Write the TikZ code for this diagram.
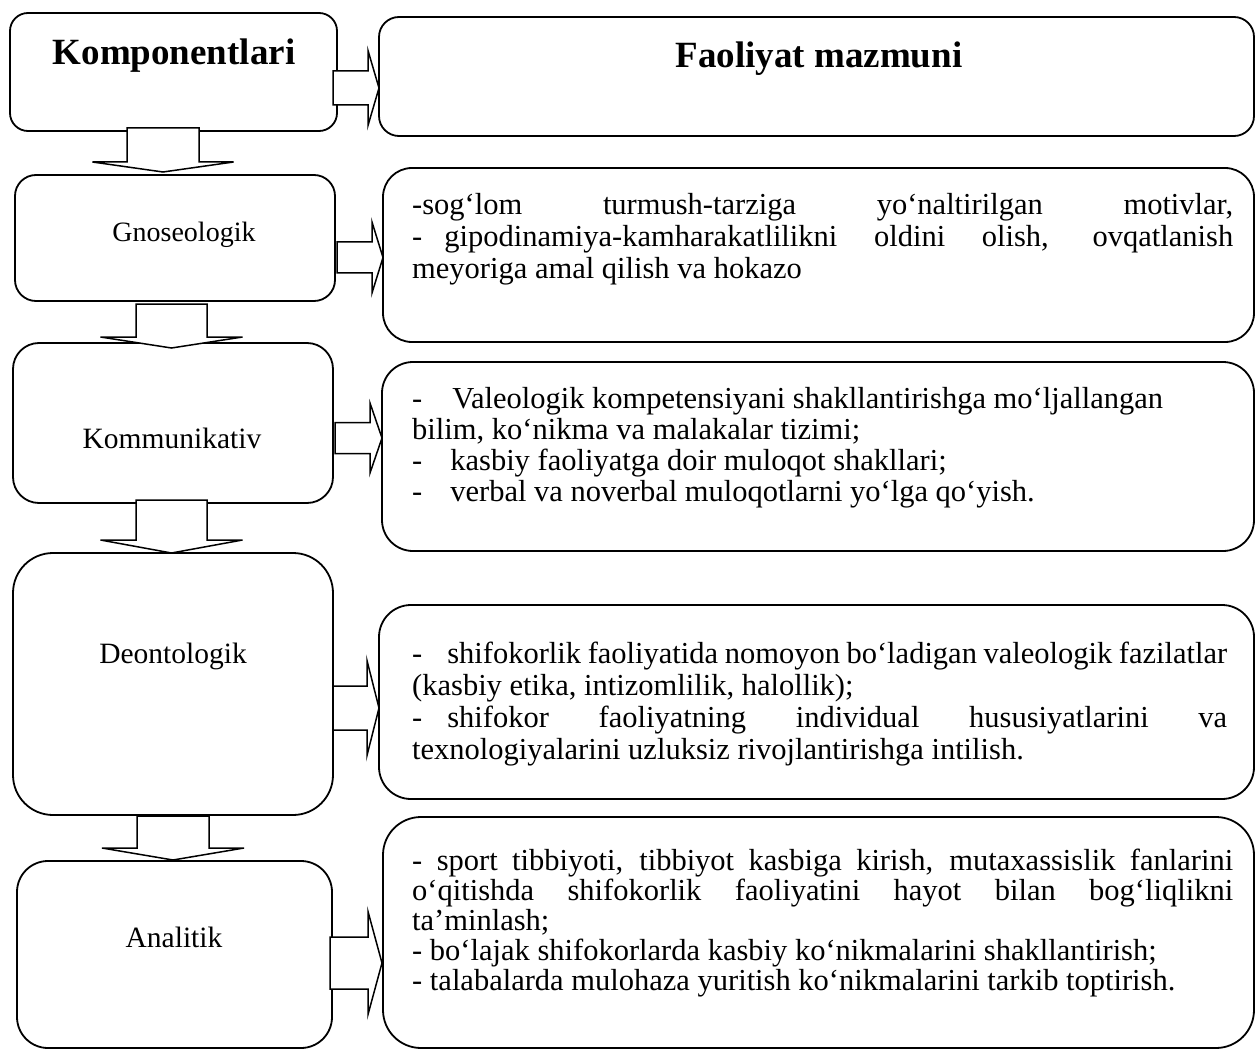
\documentclass[tikz,border=0pt]{standalone}
\usepackage{fontspec}
\setmainfont{Liberation Serif}
\newcommand\bodyfont{\fontsize{30.5}{31}\selectfont}
\newcommand\labfont{\fontsize{29.5}{32}\selectfont}
\newcommand\headfont{\fontsize{37}{42}\selectfont\bfseries}
\newcommand\dnarrow[6]{% cx, shaft half, head half, top, head y, tip y
  \draw[blockarrow] (#1-#2,#4) -- (#1+#2,#4) -- (#1+#2,#5) -- (#1+#3,#5) -- (#1,#6)
    -- (#1-#3,#5) -- (#1-#2,#5) -- cycle;}
\newcommand\rtarrow[6]{% x0, head x, tip x, cy, shaft half, head half
  \draw[blockarrow] (#1,#4-#5) -- (#2,#4-#5) -- (#2,#4-#6) -- (#3,#4) -- (#2,#4+#6)
    -- (#2,#4+#5) -- (#1,#4+#5) -- cycle;}
\begin{document}
\begin{tikzpicture}[x=1pt,y=-1pt,
  box/.style={draw, line width=1.8pt, rounded corners=#1, inner sep=0pt},
  blockarrow/.style={draw, fill=white, line width=1.5pt, line join=miter},
  txt/.style={anchor=base west, inner sep=0pt, font=\bodyfont},
  lab/.style={anchor=base, inner sep=0pt, font=\labfont},
  head/.style={anchor=base, inner sep=0pt, font=\headfont}]
\useasboundingbox (0,0) rectangle (1256,1051);
% left boxes
\node[box=18pt, minimum width=327pt, minimum height=118pt] (L1) at (173.5,72) {};
\node[box=21pt, minimum width=320pt, minimum height=126pt] (L2) at (175,238) {};
\node[box=26pt, minimum width=320pt, minimum height=160pt] (L3) at (173,423) {};
\node[box=40pt, minimum width=320pt, minimum height=262pt] (L4) at (173,684) {};
\node[box=31pt, minimum width=315pt, minimum height=187pt] (L5) at (174.5,954.5) {};
% right boxes
\node[box=20pt, minimum width=875pt, minimum height=119pt] (R1) at (816.5,76.5) {};
\node[box=29pt, minimum width=871pt, minimum height=174pt] (R2) at (818.5,255) {};
\node[box=31pt, minimum width=872pt, minimum height=189pt] (R3) at (818,456.5) {};
\node[box=32pt, minimum width=875pt, minimum height=194pt] (R4) at (816.5,702) {};
\node[box=38pt, minimum width=871pt, minimum height=231pt] (R5) at (818.5,932.5) {};
% down block arrows
\dnarrow{163}{36}{70.5}{128}{162}{172}
\dnarrow{171.5}{35.5}{71}{304}{337}{348}
\dnarrow{171.5}{35.5}{71}{500}{540}{553}
\dnarrow{173}{36}{71}{816}{848}{860}
% right block arrows
\rtarrow{333}{368}{379}{88}{17}{37.5}
\rtarrow{337}{372}{383}{257.5}{15.5}{35.5}
\rtarrow{335}{370}{382}{438}{15.5}{35}
\rtarrow{333}{367}{379}{708}{22}{47.5}
\rtarrow{330}{368}{382}{963}{26}{51.5}
% headings
\node[head] (h1) at (174,65) {Komponentlari};
\node[head] (h2) at (819,68) {Faoliyat mazmuni};
% left labels
\node[lab, font=\fontsize{28}{30}\selectfont] (l2) at (184,242) {Gnoseologik};
\node[lab] (l3) at (172,448) {Kommunikativ};
\node[lab] (l4) at (173,663) {Deontologik};
\node[lab] (l5) at (174,947) {Analitik};
% right texts
\node[txt] (r2a) at (412,215) {\makebox[821pt][s]{-sog‘lom turmush-tarziga yo‘naltirilgan motivlar,}};
\node[txt] (r2b) at (412,247) {\makebox[821pt][s]{-\hspace{22pt}gipodinamiya-kamharakatlilikni oldini olish, ovqatlanish}};
\node[txt] (r2c) at (412,279) {meyoriga amal qilish va hokazo};
\node[txt] (r3a) at (412,408) {-\hspace{30pt}Valeologik kompetensiyani shakllantirishga mo‘ljallangan};
\node[txt] (r3b) at (412,439) {bilim, ko‘nikma va malakalar tizimi;};
\node[txt] (r3c) at (412,470) {-\hspace{28pt}kasbiy faoliyatga doir muloqot shakllari;};
\node[txt] (r3d) at (412,501) {-\hspace{28pt}verbal va noverbal muloqotlarni yo‘lga qo‘yish.};
\node[txt] (r4a) at (412,663) {\makebox[815pt][s]{-\hspace{25pt}shifokorlik faoliyatida nomoyon bo‘ladigan valeologik fazilatlar}};
\node[txt] (r4b) at (412,695) {(kasbiy etika, intizomlilik, halollik);};
\node[txt] (r4c) at (412,727) {\makebox[815pt][s]{-\hspace{25pt}shifokor faoliyatning individual hususiyatlarini va}};
\node[txt] (r4d) at (412,759) {texnologiyalarini uzluksiz rivojlantirishga intilish.};
\node[txt] (r5a) at (412,870) {\makebox[821pt][s]{- sport tibbiyoti, tibbiyot kasbiga kirish, mutaxassislik fanlarini}};
\node[txt] (r5b) at (412,900) {\makebox[821pt][s]{o‘qitishda shifokorlik faoliyatini hayot bilan bog‘liqlikni}};
\node[txt] (r5c) at (412,930) {ta’minlash;};
\node[txt] (r5d) at (412,960) {- bo‘lajak shifokorlarda kasbiy ko‘nikmalarini shakllantirish;};
\node[txt] (r5e) at (412,990) {- talabalarda mulohaza yuritish ko‘nikmalarini tarkib toptirish.};
\end{tikzpicture}
\end{document}
